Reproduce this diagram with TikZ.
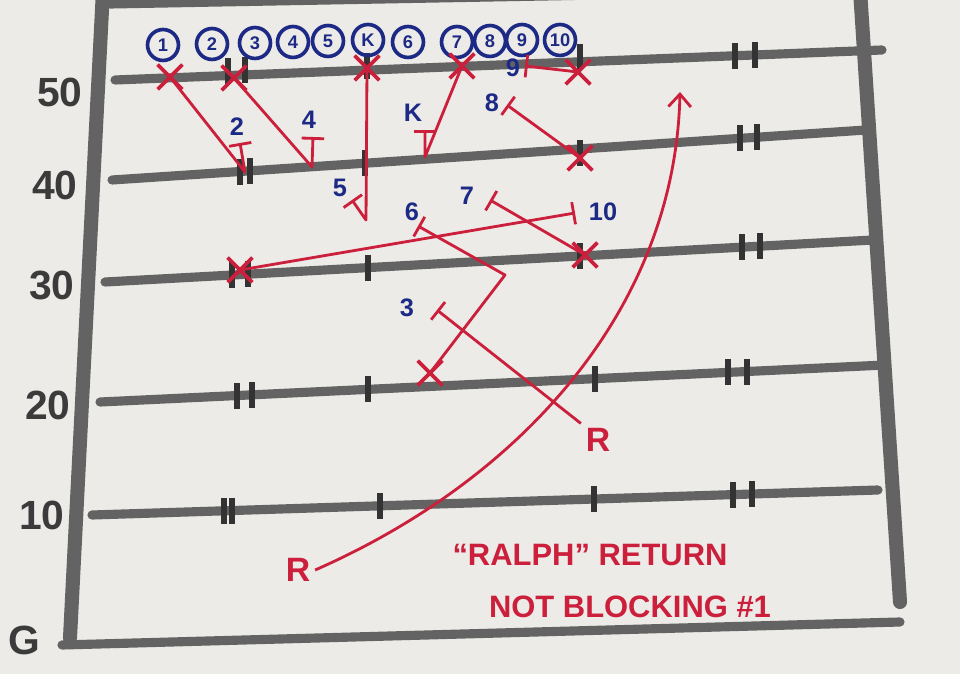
\documentclass[tikz,border=0pt]{standalone}
\usepackage{fontspec}
\setmainfont{Liberation Sans}
\usetikzlibrary{arrows.meta,shapes.misc}
\definecolor{paper}{HTML}{ECEBE7}
\definecolor{pencil}{HTML}{636363}
\definecolor{ink}{HTML}{CC1F3C}
\definecolor{pen}{HTML}{1C2A85}
\tikzset{
  yardline/.style={pencil,line width=6.5pt,line cap=round},
  sideline/.style={pencil,line width=10pt,line cap=round},
  hashmark/.style={black!80,line width=4pt},
  yardnum/.style={text=pencil!60!black,font=\bfseries\fontsize{29}{29}\selectfont},
  player/.style={cross out,draw=ink,line width=2.6pt,minimum size=15pt,inner sep=0pt},
  route/.style={ink,line width=2pt,line join=round},
  blockend/.style={route,-{Bar[width=16pt,line width=2pt]}},
  kicker/.style={circle,draw=pen,line width=2.6pt,text=pen,font=\bfseries\fontsize{13}{13}\selectfont,minimum size=22pt,inner sep=0pt},
  tag/.style={text=pen,font=\bfseries\fontsize{18}{18}\selectfont},
  redtext/.style={text=ink,font=\bfseries\fontsize{22}{24}\selectfont},
}
\begin{document}
\begin{tikzpicture}[x=0.025cm,y=-0.025cm]
\useasboundingbox (0,0) rectangle (960,674);
\clip (0,0) rectangle (960,674);
\fill[paper] (0,0) rectangle (960,674);
% field
\draw[yardline] (110,4) -- (870,-10);
\draw[yardline] (115,80) -- (882,50);
\draw[yardline] (112,180) -- (866,130);
\draw[yardline] (105,282) -- (873,240);
\draw[yardline] (100,402) -- (885,365);
\draw[yardline] (92,515) -- (878,490);
\draw[yardline] (62,645) -- (900,622);
\draw[sideline] (103,-10) -- (70,638);
\draw[sideline] (860,-10) -- (900,602);
% hash marks and ticks
\foreach \x/\y in {228/71,245/70,367/66,580/57,735/56,755/55,
                   240/172,250/171,365/163,580/153,740/138,757/137,
                   232/275,248/274,368/268,580/256,742/247,760/246,
                   237/396,252/395,368/389,595/379,728/372,747/372,
                   224/511,232/511,380/506,594/499,733/495,752/494}
  \draw[hashmark] (\x,\y-13) -- (\x,\y+13);
% yard numbers
\node[yardnum] (n50) at (60,92) {50};
\node[yardnum] (n40) at (55,185) {40};
\node[yardnum] (n30) at (52,285) {30};
\node[yardnum] (n20) at (48,405) {20};
\node[yardnum] (n10) at (42,515) {10};
\node[yardnum] (ng) at (24,640) {G};
% kicking team
\foreach \lab/\x/\y in {1/163/45,2/212/44,3/255/43,4/293/42,5/328/41,K/368/40,6/408/42,7/457/42,8/490/41,9/522/40,10/560/40}
  \node[kicker] (k\lab) at (\x,\y) {\lab};
% return team
\node[player] (xa) at (170,77) {};
\node[player] (xb) at (234,78) {};
\node[player] (xc) at (367,68) {};
\node[player] (xd) at (462,66) {};
\node[player] (xe) at (578,72) {};
\node[player] (xf) at (580,158) {};
\node[player] (xg) at (240,270) {};
\node[player] (xh) at (585,255) {};
\node[player] (xi) at (430,373) {};
\node[text=ink,font=\bfseries\fontsize{24}{24}\selectfont] (rb) at (598,440) {R};
\node[text=ink,font=\bfseries\fontsize{24}{24}\selectfont] (ra) at (298,570) {R};
% assignments
\node[tag] (a2) at (237,127) {2};
\node[tag] (a4) at (309,120) {4};
\node[tag] (ak) at (413,113) {K};
\node[tag] (a8) at (492,103) {8};
\node[tag] (a9) at (513,68) {9};
\node[tag] (a5) at (340,188) {5};
\node[tag] (a7) at (467,196) {7};
\node[tag] (a6) at (412,212) {6};
\node[tag] (a10) at (603,212) {10};
\node[tag] (a3) at (407,308) {3};
\coordinate (v2) at (245,172);
\coordinate (v4) at (312,167);
\coordinate (v5) at (366,220);
\coordinate (vk) at (425,157);
\coordinate (v6) at (505,275);
\coordinate (t2) at (240,143);
\coordinate (t4) at (313,137);
\coordinate (t5) at (352,200);
\coordinate (tk) at (425,130);
\coordinate (t9) at (525,66);
\coordinate (t8) at (507,105);
\coordinate (t7) at (490,200);
\coordinate (t10) at (575,213);
\coordinate (t6) at (418,226);
\coordinate (t3) at (437,310);
\draw[blockend] (xa.center) -- (v2) -- (t2);
\draw[blockend] (xb.center) -- (v4) -- (t4);
\draw[blockend] (xc.center) -- (v5) -- (t5);
\draw[blockend] (xd.center) -- (vk) -- (tk);
\draw[blockend] (xe.center) -- (t9);
\draw[blockend] (xf.center) -- (t8);
\draw[blockend] (xh.center) -- (t7);
\draw[blockend] (xg.center) -- (t10);
\draw[blockend] (xi.center) -- (v6) -- (t6);
\draw[blockend] (rb.north west) -- (t3);
% return path
\coordinate (goal) at (680,92);
\draw[route,-{Straight Barb[length=9pt,width=16pt,line width=2pt]}] (ra.east) .. controls (520,480) and (675,310) .. (goal);
% note
\node[redtext] (note1) at (590,555) {``RALPH'' RETURN};
\node[redtext] (note2) at (630,607) {NOT BLOCKING \#1};
\end{tikzpicture}
\end{document}
